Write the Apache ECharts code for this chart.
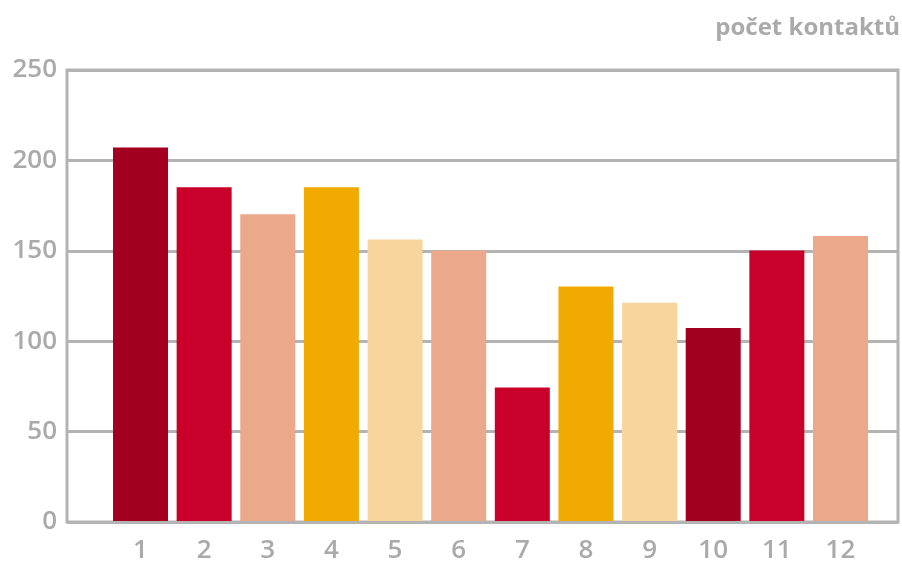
<!DOCTYPE html>
<html>
<head>
<meta charset="utf-8">
<script src="https://cdn.jsdelivr.net/npm/echarts@6/dist/echarts.min.js"></script>
<style>
html,body{margin:0;padding:0;background:#fff;}
#chart{width:902px;height:564px;}
</style>
</head>
<body>
<div id="chart"></div>
<script>
const categories = ['1','2','3','4','5','6','7','8','9','10','11','12'];
const values = [207, 185, 170, 185, 156, 150, 74, 130, 121, 107, 150, 158];
const barColors = ['#a3001f','#c8002a','#eca88a','#f1aa00','#f8d59c','#eca88a','#c8002a','#f1aa00','#f8d59c','#a3001f','#c8002a','#eca88a'];
const yTicks = [0, 50, 100, 150, 200, 250];
const unitLabel = 'počet kontaktů';

const gray = '#b3b3b3';
const textGray = '#aaaaaa';
const font = 'Open Sans';

const chart = echarts.init(document.getElementById('chart'), null, {renderer: 'canvas'});
chart.setOption({
  animation: false,
  backgroundColor: '#fff',
  title: {
    text: unitLabel,
    right: -3,
    top: 11,
    textStyle: {color: textGray, fontSize: 24, fontWeight: 'bold', fontFamily: font}
  },
  grid: [
    {left: 67, right: 4, top: 70, bottom: 42, show: true, borderColor: gray, borderWidth: 3, backgroundColor: 'transparent'},
    {left: 108.7, right: 29.7, top: 70, bottom: 42}
  ],
  xAxis: [
    {gridIndex: 0, type: 'category', data: ['x'], show: false},
    {gridIndex: 1, type: 'category', data: categories,
     axisLine: {show: false}, axisTick: {show: false},
     axisLabel: {color: textGray, fontSize: 26, fontWeight: 600, fontFamily: font, margin: 17}}
  ],
  yAxis: [
    {gridIndex: 0, type: 'value', min: yTicks[0], max: yTicks[yTicks.length-1], interval: 50,
     axisLine: {show: false}, axisTick: {show: false},
     axisLabel: {color: textGray, fontSize: 26, fontWeight: 600, fontFamily: font, margin: 10},
     splitLine: {show: true, lineStyle: {color: gray, width: 3}}},
    {gridIndex: 1, type: 'value', min: yTicks[0], max: yTicks[yTicks.length-1], show: false, splitLine: {show: false}}
  ],
  series: [{
    type: 'bar',
    xAxisIndex: 1,
    yAxisIndex: 1,
    barWidth: 55,
    data: values.map((v, i) => ({value: v, itemStyle: {color: barColors[i]}}))
  }]
});
</script>
</body>
</html>
